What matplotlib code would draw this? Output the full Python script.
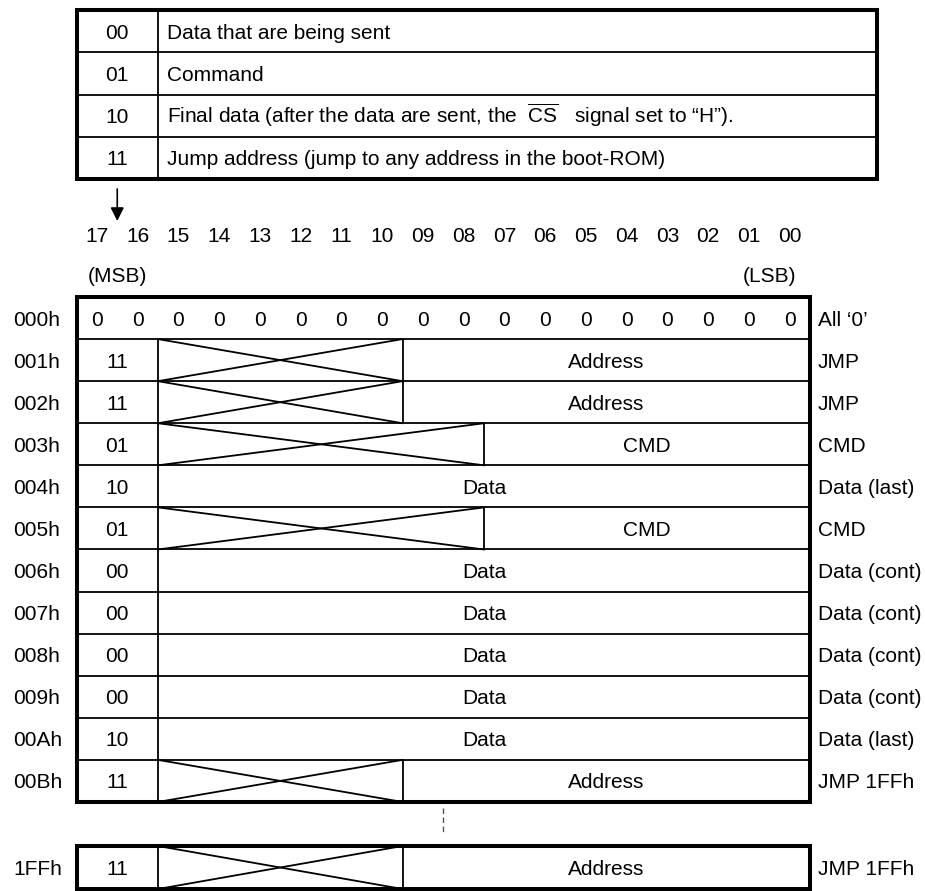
import matplotlib.pyplot as plt
from matplotlib.patches import Rectangle

plt.rcParams['font.family'] = ['Liberation Sans', 'DejaVu Sans']
plt.rcParams['mathtext.fontset'] = 'custom'
plt.rcParams['mathtext.rm'] = 'Liberation Sans'

# legend table at the top
legend_codes = ['00', '01', '10', '11']
legend_desc = [
    'Data that are being sent',
    'Command',
    r'Final data (after the data are sent, the  $\overline{\mathrm{CS}}$   signal set to “H”).',
    'Jump address (jump to any address in the boot-ROM)',
]

# bit numbers 17..00
bit_labels = ['%02d' % b for b in range(17, -1, -1)]

# boot-ROM rows
addresses = ['000h', '001h', '002h', '003h', '004h', '005h',
             '006h', '007h', '008h', '009h', '00Ah', '00Bh']
row_codes = [None, '11', '11', '01', '10', '01', '00', '00', '00', '00', '10', '11']
dont_care = [0, 6, 6, 8, 0, 8, 0, 0, 0, 0, 0, 6]
fields = [None, 'Address', 'Address', 'CMD', 'Data', 'CMD',
          'Data', 'Data', 'Data', 'Data', 'Data', 'Address']
notes = ['All ‘0’', 'JMP', 'JMP', 'CMD', 'Data (last)', 'CMD',
         'Data (cont)', 'Data (cont)', 'Data (cont)', 'Data (cont)',
         'Data (last)', 'JMP 1FFh']

last_addr = '1FFh'
last_code = '11'
last_dc = 6
last_field = 'Address'
last_note = 'JMP 1FFh'

# layout (pixels)
W, H = 925, 891
X0, CW = 76.5, 40.75
Y0, RH = 297, 42.08
TY0, TRH, TX1 = 10, 42.25, 877
LY0, LRH = 846, 43
FS = 15
BL = 0.36 * FS * 100 / 72   # half cap height -> baseline offset
THICK, THIN = 2.9, 1.3


def bx(b):
    return X0 + b * CW


fig = plt.figure(figsize=(W / 100, H / 100), dpi=100)
ax = fig.add_axes([0, 0, 1, 1])
ax.set_xlim(0, W)
ax.set_ylim(H, 0)
ax.axis('off')


def hline(y, x1, x2, lw=THIN):
    ax.plot([x1, x2], [y, y], color='black', lw=lw, solid_capstyle='butt')


def vline(x, y1, y2, lw=THIN):
    ax.plot([x, x], [y1, y2], color='black', lw=lw, solid_capstyle='butt')


def txt(x, yc, s, ha='center'):
    ax.text(x, yc + BL, s, ha=ha, va='baseline', fontsize=FS)


# top table
for i, (code, desc) in enumerate(zip(legend_codes, legend_desc)):
    yc = TY0 + (i + 0.5) * TRH
    txt((X0 + bx(2)) / 2, yc, code)
    txt(bx(2) + 9, yc, desc, ha='left')
    if i > 0:
        hline(TY0 + i * TRH, X0, TX1)
vline(bx(2), TY0, TY0 + 4 * TRH)
ax.add_patch(Rectangle((X0, TY0), TX1 - X0, 4 * TRH, fill=False,
                       lw=THICK, ec='black', joinstyle='miter'))

# arrow from code field down to bits 17/16
ax.annotate('', xy=(bx(1), 221), xytext=(bx(1), 189),
            arrowprops=dict(arrowstyle='-|>', color='black', lw=1.2,
                            mutation_scale=20, shrinkA=0, shrinkB=0))

# bit numbers
for i, lab in enumerate(bit_labels):
    txt(bx(i + 0.5), 235, lab)
txt(bx(1), 275, '(MSB)')
txt(bx(17), 275, '(LSB)')


def draw_row(ytop, h, code, n_dc, field):
    yc = ytop + h / 2
    if code is None:
        for b in range(18):
            txt(bx(b + 0.5), yc, '0')
        return
    vline(bx(2), ytop, ytop + h)
    txt((X0 + bx(2)) / 2, yc, code)
    xs = bx(2 + n_dc)
    if n_dc > 0:
        vline(xs, ytop, ytop + h)
        ax.plot([bx(2), xs], [ytop, ytop + h], color='black', lw=THIN)
        ax.plot([bx(2), xs], [ytop + h, ytop], color='black', lw=THIN)
    txt((xs + bx(18)) / 2, yc, field)


for i in range(len(addresses)):
    ytop = Y0 + i * RH
    draw_row(ytop, RH, row_codes[i], dont_care[i], fields[i])
    txt(13, ytop + RH / 2, addresses[i], ha='left')
    txt(818, ytop + RH / 2, notes[i], ha='left')
    if i > 0:
        hline(ytop, X0, bx(18))
ax.add_patch(Rectangle((X0, Y0), bx(18) - X0, len(addresses) * RH, fill=False,
                       lw=THICK, ec='black', joinstyle='miter'))

# omitted rows
ax.plot([bx(9), bx(9)], [808, 832], color='#555555', lw=1, ls=(0, (4, 2.5)))

# last row
draw_row(LY0, LRH, last_code, last_dc, last_field)
txt(13, LY0 + LRH / 2, last_addr, ha='left')
txt(818, LY0 + LRH / 2, last_note, ha='left')
ax.add_patch(Rectangle((X0, LY0), bx(18) - X0, LRH, fill=False,
                       lw=THICK, ec='black', joinstyle='miter'))

fig.savefig('out.png', dpi=100)
